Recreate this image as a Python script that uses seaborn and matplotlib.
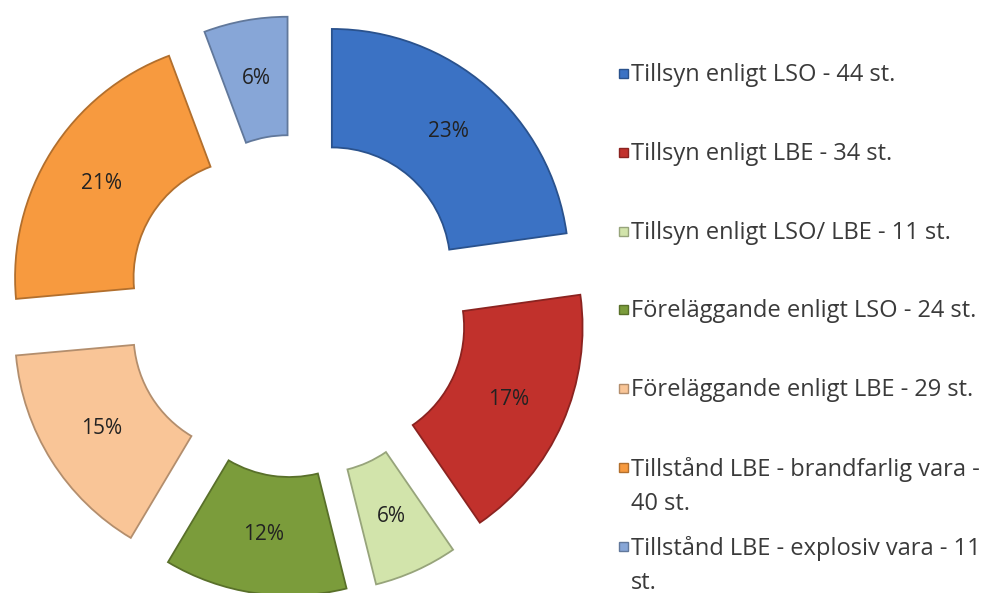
import numpy as np
import pandas as pd
import seaborn as sns
import matplotlib.pyplot as plt
import matplotlib.colors as mcolors
from matplotlib.patches import Rectangle

# --- data ---
categories = [
    "Tillsyn enligt LSO",
    "Tillsyn enligt LBE",
    "Tillsyn enligt LSO/ LBE",
    "Föreläggande enligt LSO",
    "Föreläggande enligt LBE",
    "Tillstånd LBE - brandfarlig vara",
    "Tillstånd LBE - explosiv vara",
]
counts = [44, 34, 11, 24, 29, 40, 11]
pct_labels = ["23%", "17%", "6%", "12%", "15%", "21%", "6%"]
legend_labels = [
    "Tillsyn enligt LSO - 44 st.",
    "Tillsyn enligt LBE - 34 st.",
    "Tillsyn enligt LSO/ LBE - 11 st.",
    "Föreläggande enligt LSO - 24 st.",
    "Föreläggande enligt LBE - 29 st.",
    "Tillstånd LBE - brandfarlig vara -\n40 st.",
    "Tillstånd LBE - explosiv vara - 11\nst.",
]
colors = ["#3b72c4", "#c1312c", "#d2e4ab", "#7b9c3b", "#f9c597", "#f79a3f", "#87a6d7"]

df = pd.DataFrame({"category": categories, "count": counts, "color": colors})

sns.set_theme(style="white")
plt.rcParams["font.family"] = ["Open Sans", "DejaVu Sans"]

W, H = 1008, 593
fig = plt.figure(figsize=(W / 100, H / 100), dpi=100)
ax = fig.add_axes([0, 0, 1, 1])

# donut geometry in pixels (outer radius = 1 data unit)
R_px, cx, cy = 237, 297, 306

edge_cols = [tuple(np.array(mcolors.to_rgb(c)) * 0.72) for c in df["color"]]

wedges, texts = ax.pie(
    df["count"],
    colors=df["color"],
    explode=[0.224] * len(df),
    startangle=90,
    counterclock=False,
    radius=1,
    labels=pct_labels,
    labeldistance=0.75,
    wedgeprops=dict(width=0.5, linewidth=1.3),
    textprops=dict(fontsize=15, color="#222222"),
)
for w, ec in zip(wedges, edge_cols):
    w.set_edgecolor(ec)
for t in texts:
    t.set_ha("center")
    t.set_va("center")

ax.set_xlim(-cx / R_px, (W - cx) / R_px)
ax.set_ylim(-(H - cy) / R_px, cy / R_px)
ax.axis("off")

# legend on the right, one slot per entry (yc = centre of first text line)
x_box, x_txt = 619, 631
y0, step = 72, 78.8
for i, (lab, col, ec) in enumerate(zip(legend_labels, df["color"], edge_cols)):
    yc = y0 + step * i
    fig.add_artist(Rectangle((x_box / W, 1 - (yc + 6) / H), 9 / W, 9 / H,
                             transform=fig.transFigure, facecolor=col,
                             edgecolor=ec, linewidth=1))
    fig.text(x_txt / W, 1 - (yc - 9) / H, lab, ha="left", va="top",
             fontsize=17, color="#3a3a3a", linespacing=1.55)

fig.savefig("out.png", dpi=100)
